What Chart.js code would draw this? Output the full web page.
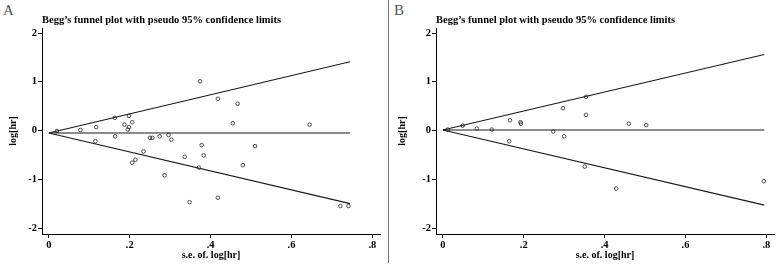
<!DOCTYPE html>
<html>
<head>
<meta charset="utf-8">
<script src="https://cdn.jsdelivr.net/npm/chart.js@4/dist/chart.umd.min.js"></script>
<style>
  body { margin: 0; background: #fff; }
  #wrap { position: relative; width: 779px; height: 266px; background: #fff; overflow: hidden; }
  #wrap canvas { position: absolute; top: 0; }
  .panel-label { position: absolute; top: 2px; font: 15px 'Liberation Serif', serif; color: #555; }
  .sep { position: absolute; left: 388px; top: 0; width: 1px; height: 263px; background: #777; }
</style>
</head>
<body>
<div id="wrap">
  <div class="panel-label" style="left:3px">A</div>
  <div class="panel-label" style="left:394px">B</div>
  <div class="sep"></div>
  <canvas id="chartA" width="388" height="266" style="left:0"></canvas>
  <canvas id="chartB" width="390" height="266" style="left:389px"></canvas>
</div>
<script>
// Panel A - studies (standard error, log hazard ratio)
const seA = [0.020, 0.078, 0.117, 0.163, 0.187, 0.198, 0.195, 0.198, 0.206, 0.374, 0.418, 0.467, 0.455, 0.645,
             0.115, 0.164, 0.250, 0.256, 0.274, 0.296, 0.303, 0.234, 0.206, 0.214, 0.336, 0.378, 0.383, 0.371,
             0.286, 0.348, 0.418, 0.480, 0.510, 0.721, 0.741];
const logHrA = [-0.01, 0.01, 0.07, 0.26, 0.12, 0.30, 0.02, 0.07, 0.17, 1.01, 0.65, 0.55, 0.15, 0.12,
                -0.22, -0.12, -0.15, -0.15, -0.12, -0.09, -0.19, -0.43, -0.66, -0.60, -0.54, -0.30, -0.51, -0.76,
                -0.92, -1.47, -1.38, -0.71, -0.32, -1.55, -1.55];
// Panel A - pseudo 95% limits and pooled estimate
const limitSeA = [0, 0.745];
const upperA = [-0.05, 1.41];
const lowerA = [-0.05, -1.50];
const pooledA = [-0.05, -0.05];

// Panel B
const seB = [0.012, 0.049, 0.084, 0.121, 0.166, 0.192, 0.193, 0.273, 0.297, 0.354, 0.354, 0.460, 0.503,
             0.164, 0.300, 0.351, 0.429, 0.794];
const logHrB = [0.02, 0.10, 0.04, 0.02, 0.21, 0.17, 0.14, -0.02, 0.46, 0.69, 0.32, 0.14, 0.11,
                -0.22, -0.12, -0.74, -1.19, -1.04];
const limitSeB = [0, 0.795];
const upperB = [0.01, 1.56];
const lowerB = [0.01, -1.53];
const pooledB = [0.01, 0.01];

// Axes
const xTicks = [0, 0.2, 0.4, 0.6, 0.8];
const xTickLabels = ['0', '.2', '.4', '.6', '.8'];
const yTicks = [-2, -1, 0, 1, 2];
const yTickLabels = ['-2', '-1', '0', '1', '2'];

Chart.defaults.font.family = "'Liberation Serif', 'DejaVu Serif', serif";
Chart.defaults.color = '#000';

function toPoints(xs, ys) {
    return xs.map(function (x, i) { return { x: x, y: ys[i] }; });
}

function lineSet(xs, ys) {
    return {
        data: toPoints(xs, ys),
        showLine: true,
        borderColor: '#1a1a1a',
        borderWidth: 1.1,
        pointRadius: 0,
        fill: false
    };
}

function makePanel(id, se, logHr, limitSe, upper, lower, pooled, yAxisWidth, rightPad) {
    const ctx = document.getElementById(id).getContext('2d');
    return new Chart(ctx, {
        type: 'scatter',
        data: {
            datasets: [
                lineSet(limitSe, upper),
                lineSet(limitSe, lower),
                lineSet(limitSe, pooled),
                {
                    data: toPoints(se, logHr),
                    pointStyle: 'circle',
                    pointRadius: 1.8,
                    pointBorderWidth: 0.8,
                    pointBorderColor: '#222',
                    pointBackgroundColor: 'rgba(255,255,255,0)'
                }
            ]
        },
        options: {
            responsive: false,
            animation: false,
            devicePixelRatio: 1,
            layout: { padding: { top: 0, right: rightPad, bottom: 0, left: 0 } },
            plugins: {
                legend: { display: false },
                tooltip: { enabled: false },
                title: {
                    display: true,
                    text: 'Begg\u2019s funnel plot with pseudo 95% confidence limits',
                    align: 'start',
                    fullSize: false,
                    color: '#000',
                    font: { size: 10.5, weight: 'bold' },
                    padding: { top: 14, bottom: 1.4 }
                }
            },
            scales: {
                x: {
                    type: 'linear',
                    min: -0.017,
                    max: 0.819,
                    afterFit: function (scale) { scale.height = 32; },
                    afterBuildTicks: function (scale) {
                        scale.ticks = xTicks.map(function (v) { return { value: v }; });
                    },
                    grid: { drawOnChartArea: false, drawTicks: true, tickLength: 4, color: '#000' },
                    border: { display: true, color: '#000', width: 1 },
                    ticks: {
                        padding: 1,
                        maxRotation: 0,
                        font: { size: 10.5, weight: 'bold' },
                        color: '#000',
                        callback: function (value) { return xTickLabels[xTicks.indexOf(value)]; }
                    },
                    title: {
                        display: true,
                        text: 's.e. of. log[hr]',
                        color: '#000',
                        font: { size: 10, weight: 'bold' },
                        padding: { top: 0, bottom: 5 }
                    }
                },
                y: {
                    type: 'linear',
                    min: -2.123,
                    max: 2.103,
                    afterFit: function (scale) { scale.width = yAxisWidth; },
                    afterBuildTicks: function (scale) {
                        scale.ticks = yTicks.map(function (v) { return { value: v }; });
                    },
                    grid: { drawOnChartArea: false, drawTicks: true, tickLength: 4, color: '#000' },
                    border: { display: true, color: '#000', width: 1 },
                    ticks: {
                        padding: 1,
                        font: { size: 10.5, weight: 'bold' },
                        color: '#000',
                        callback: function (value) { return yTickLabels[yTicks.indexOf(value)]; }
                    },
                    title: {
                        display: true,
                        text: 'log[hr]',
                        color: '#000',
                        font: { size: 10, weight: 'bold' },
                        padding: { top: 7, bottom: 0 }
                    }
                }
            }
        }
    });
}

makePanel('chartA', seA, logHrA, limitSeA, upperA, lowerA, pooledA, 42, 8);
makePanel('chartB', seB, logHrB, limitSeB, upperB, lowerB, pooledB, 47, 5);
</script>
</body>
</html>
